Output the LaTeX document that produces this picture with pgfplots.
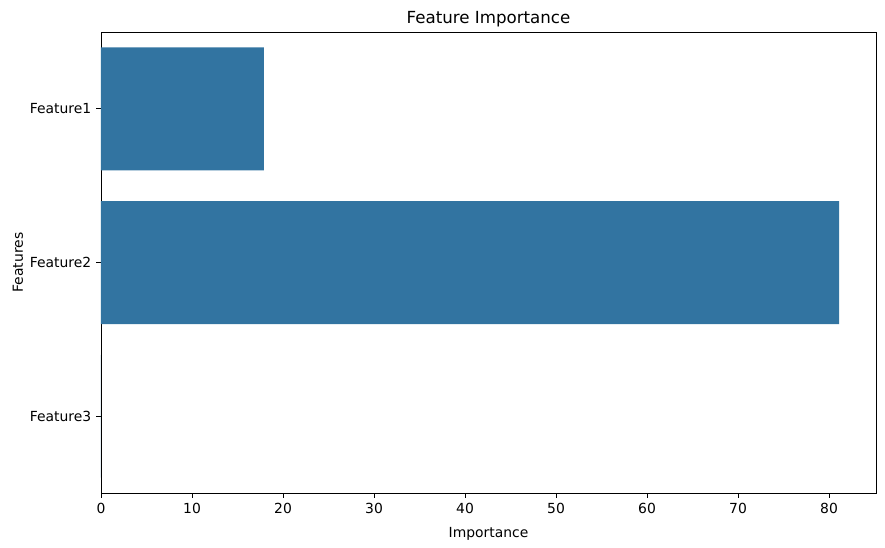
\documentclass[border=0pt]{standalone}
\usepackage{fontspec}
\setmainfont{DejaVu Sans}
\usepackage{pgfplots}
\pgfplotsset{compat=1.18}
\definecolor{sbblue}{HTML}{3274A1}
\begin{document}
\begin{tikzpicture}
\begin{axis}[
    name=ax,
    scale only axis,
    width=558pt, height=332pt,
    xbar, bar width=0.8,
    xmin=0, xmax=85.16,
    ymin=-0.5, ymax=2.5,
    y dir=reverse,
    ytick={0,1,2},
    yticklabels={Feature1,Feature2,Feature3},
    xtick={0,10,20,30,40,50,60,70,80},
    tick align=outside,
    major tick length=3.5pt,
    tick style={black, line width=0.6pt},
    axis line style={line width=0.6pt},
    xtick pos=bottom, ytick pos=left,
    /pgf/number format/assume math mode=true,
    ticklabel style={font=\fontsize{10}{12}\selectfont},
    title={Feature Importance},
    title style={font=\fontsize{12}{14}\selectfont, yshift=-6pt},
    xlabel={Importance},
    ylabel={Features},
    label style={font=\fontsize{10}{12}\selectfont},
    xlabel style={yshift=-3pt},
    ylabel style={yshift=-2pt},
]
\addplot[fill=sbblue, draw=none] coordinates {(17.9,0) (81.1,1) (0,2)};
\end{axis}
\pgfresetboundingbox
\useasboundingbox ([shift={(-72.72pt,-38.88pt)}]ax.south west) rectangle ([shift={(6.48pt,23.04pt)}]ax.north east);
\end{tikzpicture}
\end{document}
